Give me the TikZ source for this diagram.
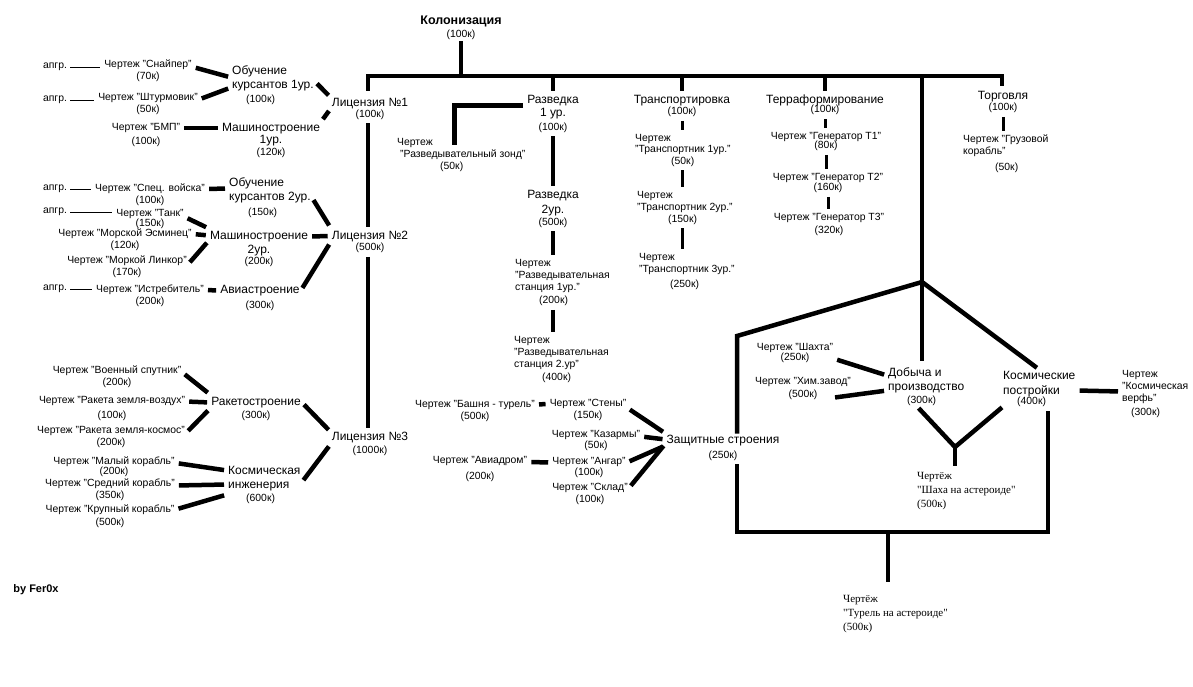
\documentclass[tikz,border=0pt]{standalone}
\usepackage{fontspec}
\setmainfont{Liberation Sans}
\newfontfamily\serifface{Liberation Serif}
\newcommand\sm{\fontsize{10.4}{12}\selectfont}
\newcommand\bg{\fontsize{12}{14}\selectfont}

\begin{document}
\begin{tikzpicture}[x=1pt,y=-1pt,
    bp/.style={font=\sm,align=center,inner sep=1pt},
    bpl/.style={font=\sm,align=left,inner sep=1pt,anchor=west},
    br/.style={font=\bg,align=center,inner sep=1pt},
    brl/.style={font=\bg,align=left,inner sep=1pt,anchor=west},
    ser/.style={font=\serifface\fontsize{11}{14}\selectfont,align=left,inner sep=1pt,anchor=west},
    wire/.style={line width=4.5pt},
    link/.style={wire,shorten <=3pt,shorten >=3pt},
    midwire/.style={line width=3pt,shorten <=3pt,shorten >=3pt},
    thin/.style={line width=0.9pt,shorten <=2pt,shorten >=3pt}
  ]
  \useasboundingbox (0,0) rectangle (1193,687);

  % top
  \node[font=\bfseries\fontsize{12.5}{13}\selectfont,align=center,inner sep=1pt] (kol) at (461,28) {Колонизация\\{\sm\mdseries(100к)}};
  \node[br] (lic1) at (370,108.5) {Лицензия №1\\[-3pt]{\sm(100к)}};
  \node[br] (lic2) at (370,242) {Лицензия №2\\[-3pt]{\sm(500к)}};
  \node[br] (lic3) at (370,444) {Лицензия №3\\[-1pt]{\sm(1000к)}};

  % licence 1
  \node[bp] (up1) at (55,67) {апгр.};
  \node[bp] (up2) at (55,100) {апгр.};
  \node[bp] (snp) at (148,71) {Чертеж "Снайпер"\\(70к)};
  \node[bp] (shtm) at (148,104.5) {Чертеж "Штурмовик"\\(50к)};
  \node[bp] (bmp) at (146,135) {Чертеж "БМП"\\[2pt](100к)};
  \node[brl] (ob1) at (231,85.5) {Обучение\\курсантов 1ур.\\\hspace*{14pt}{\sm(100к)}};
  \node[br] (mash1) at (271,140) {Машиностроение\\[-2pt]1ур.\\[-2pt]{\sm(120к)}};

  % licence 2
  \node[bp] (up3) at (55,189) {апгр.};
  \node[bp] (up4) at (55,212) {апгр.};
  \node[bp] (up5) at (55,289) {апгр.};
  \node[bp] (spec) at (150,195) {Чертеж "Спец. войска"\\(100к)};
  \node[bp] (tank) at (150,219) {Чертеж "Танк"\\[-2pt](150к)};
  \node[bp] (esm) at (125,240) {Чертеж "Морской Эсминец"\\(120к)};
  \node[bp] (lnk) at (127,266.5) {Чертеж "Моркой Линкор"\\(170к)};
  \node[bp] (istr) at (150,296) {Чертеж "Истребитель"\\(200к)};
  \node[brl] (ob2) at (228,197.5) {Обучение\\курсантов 2ур.\\[1pt]\hspace*{19pt}{\sm(150к)}};
  \node[br] (mash2) at (259,248.5) {Машиностроение\\2ур.\\[-3pt]{\sm(200к)}};
  \node[br] (avia) at (260,297.5) {Авиастроение\\[1pt]{\sm(300к)}};

  % licence 3
  \node[bp] (sput) at (117,376.5) {Чертеж "Военный спутник"\\(200к)};
  \node[bp] (rvz) at (112,408.5) {Чертеж "Ракета земля-воздух"\\[3pt](100к)};
  \node[bp] (rkos) at (111,437) {Чертеж "Ракета земля-космос"\\(200к)};
  \node[br] (raket) at (256,408.5) {Ракетостроение\\[-1pt]{\sm(300к)}};
  \node[bp] (maly) at (114,467) {Чертеж "Малый корабль"\\[-2pt](200к)};
  \node[bp] (sred) at (110,489.5) {Чертеж "Средний корабль"\\(350к)};
  \node[bp] (krup) at (110,516.5) {Чертеж "Крупный корабль"\\[1pt](500к)};
  \node[brl] (kosm) at (227,484.5) {Космическая\\инженерия\\[-1pt]\hspace*{18pt}{\sm(600к)}};

  % scouting
  \node[br] (razv1) at (553,113.5) {Разведка\\[-1pt]1 ур.\\{\sm(100к)}};
  \node[bpl] (zond) at (396,155) {Чертеж\\\hspace*{3pt}"Разведывательный зонд"\\\hspace*{43pt}(50к)};
  \node[br] (razv2) at (553,208.5) {Разведка\\[1pt]2ур.\\[-2pt]{\sm(500к)}};
  \node[bpl] (st1) at (514,282.5) {Чертеж\\"Разведывательная\\станция 1ур."\\[1pt]\hspace*{24pt}(200к)};
  \node[bpl] (st2) at (513,359.5) {Чертеж\\"Разведывательная\\станция 2.ур"\\[1pt]\hspace*{28pt}(400к)};

  % transport
  \node[br] (trans) at (682,106) {Транспортировка\\[-3pt]{\sm(100к)}};
  \node[bpl] (tr1) at (634,150) {Чертеж\\"Транспортник 1ур."\\[-1pt]\hspace*{36pt}(50к)};
  \node[bpl] (tr2) at (636,207.5) {Чертеж\\"Транспортник 2ур."\\\hspace*{31pt}(150к)};
  \node[bpl] (tr3) at (638,271) {Чертеж\\"Транспортник 3ур."\\[3pt]\hspace*{31pt}(250к)};

  % terraforming
  \node[br] (terra) at (825,105) {Терраформирование\\[-5pt]{\sm(100к)}};
  \node[bp] (gen1) at (826,141.5) {Чертеж "Генератор Т1"\\[-3pt](80к)};
  \node[bp] (gen2) at (828,183) {Чертеж "Генератор Т2"\\[-2pt](160к)};
  \node[bp] (gen3) at (829,224.5) {Чертеж "Генератор Т3"\\[1pt](320к)};

  % trade
  \node[br] (torg) at (1003,102) {Торговля\\[-3pt]{\sm(100к)}};
  \node[bpl] (gruz) at (962,154) {Чертеж "Грузовой\\корабль"\\[4pt]\hspace*{32pt}(50к)};

  % defence
  \node[br] (zash) at (723,447.5) {Защитные строения\\[1pt]{\sm(250к)}};
  \node[bp] (steny) at (588,410) {Чертеж "Стены"\\(150к)};
  \node[bp] (bash) at (475,410.5) {Чертеж "Башня - турель"\\(500к)};
  \node[bp] (kaz) at (596,440.5) {Чертеж "Казармы"\\[-1pt](50к)};
  \node[bp] (avd) at (480,469) {Чертеж "Авиадром"\\[4pt](200к)};
  \node[bp] (angar) at (589,467.5) {Чертеж "Ангар"\\[-1pt](100к)};
  \node[bp] (sklad) at (590,494) {Чертеж "Склад"\\(100к)};

  % mining and space
  \node[brl] (dob) at (887,386.5) {Добыча и\\производство\\[-1pt]\hspace*{19pt}{\sm(300к)}};
  \node[brl] (kp) at (1002,388.5) {Космические\\[1pt]постройки\\[-4pt]\hspace*{14pt}{\sm(400к)}};
  \node[bp] (shahta) at (795,353) {Чертеж "Шахта"\\[-2pt](250к)};
  \node[bp] (him) at (803,388.5) {Чертеж "Хим.завод"\\[1pt](500к)};
  \node[bpl] (verf) at (1121,393.5) {Чертеж\\"Космическая\\верфь"\\[2pt]\hspace*{9pt}(300к)};
  \node[ser] (shaha) at (916,491) {Чертёж\\"Шаха на астероиде"\\(500к)};
  \node[ser] (turel) at (842,614.5) {Чертёж\\"Турель на астероиде"\\(500к)};

  \node[font=\bfseries\fontsize{11}{13}\selectfont,inner sep=1pt] (auth) at (36,590) {by Fer0x};

  \coordinate (busL) at (368,76);
  \coordinate (busR) at (1002,76);
  \coordinate (jn) at (922,282);
  \coordinate (fr1) at (737,336);
  \coordinate (frL) at (737,532);
  \coordinate (frR) at (1048,532);
  \coordinate (frM) at (888,532);
  \coordinate (vj) at (955,447);

  % main bus
  \draw[wire,shorten <=6pt,shorten >=4pt] (busL |- lic1.north) -- (busL) -- (busR) -- (busR |- torg.north);
  \draw[wire] (kol.south) -- (kol.south |- busL);
  \draw[wire,shorten <=3pt] (razv1.north) -- (razv1.north |- busL);
  \draw[wire,shorten <=3pt] (trans.north) -- (trans.north |- busL);
  \draw[wire,shorten <=3pt] (terra.north) -- (terra.north |- busL);
  \draw[wire] (jn |- busL) -- (jn);

  % licences
  \draw[link] (busL |- lic1.south) -- (busL |- lic2.north);
  \draw[link] (busL |- lic2.south) -- (busL |- lic3.north);
  \draw[thin] (up1.east) -- (up1.east -| snp.west);
  \draw[thin] (up2.east) -- (up2.east -| shtm.west);
  \draw[link] ([yshift=4pt]snp.east) -- ([yshift=8pt]ob1.west);
  \draw[link] ([yshift=5pt]shtm.east) -- ([yshift=-2pt]ob1.west);
  \draw[link] ([yshift=7pt]bmp.east) -- ([yshift=12pt]mash1.west);
  \draw[link] ([yshift=4pt]ob1.east) -- ([yshift=11pt]lic1.west);
  \draw[link] (mash1.north east) -- (lic1.west);

  \draw[thin] (up3.east) -- (up3.east -| spec.west);
  \draw[thin] (up4.east) -- (up4.east -| tank.west);
  \draw[thin] (up5.east) -- (up5.east -| istr.west);
  \draw[link] ([yshift=6pt]spec.east) -- ([yshift=9pt]ob2.west);
  \draw[link] ([yshift=2pt]tank.east) -- ([yshift=20pt]mash2.west);
  \draw[link] ([yshift=6pt]esm.east) -- ([yshift=13pt]mash2.west);
  \draw[link] ([yshift=2pt]lnk.east) -- ([yshift=8pt]mash2.west);
  \draw[link] ([yshift=6pt]istr.east) -- ([yshift=7pt]avia.west);
  \draw[link] (ob2.east) -- ([yshift=14pt]lic2.west);
  \draw[link] ([yshift=12pt]mash2.east) -- ([yshift=6pt]lic2.west);
  \draw[link] ([yshift=7pt]avia.east) -- (lic2.west);

  \draw[link] ([yshift=4pt]sput.east) -- ([yshift=14pt]raket.west);
  \draw[link] ([yshift=7pt]rvz.east) -- ([yshift=6pt]raket.west);
  \draw[link] ([yshift=4pt]rkos.east) -- (raket.west);
  \draw[link] ([yshift=6pt]raket.east) -- ([yshift=12pt]lic3.west);
  \draw[link] ([yshift=4pt]maly.east) -- ([yshift=14pt]kosm.west);
  \draw[link] ([yshift=4pt]sred.east) -- (kosm.west);
  \draw[link] ([yshift=7pt]krup.east) -- ([yshift=-10pt]kosm.west);
  \draw[link] ([yshift=2pt]kosm.east) -- (lic3.west);

  % scouting, transport, terraforming, trade
  \draw[wire,shorten <=3pt] ([yshift=8pt]razv1.west) -| ([xshift=-7pt,yshift=-8pt]zond.north);
  \draw[link] (razv1.south) -- (razv2.north);
  \draw[link] (razv2.south) -- (razv2.south |- st1.north);
  \draw[link] (razv2.south |- st1.south) -- (razv2.south |- st2.north);
  \draw[midwire] (trans.south) -- (trans.south |- tr1.north);
  \draw[midwire] (trans.south |- tr1.south) -- (trans.south |- tr2.north);
  \draw[midwire] (trans.south |- tr2.south) -- (trans.south |- tr3.north);
  \draw[midwire] (terra.south) -- (terra.south |- gen1.north);
  \draw[midwire] (gen1.south) -- (gen1.south |- gen2.north);
  \draw[midwire] (gen2.south) -- (gen2.south |- gen3.north);
  \draw[midwire] (torg.south) -- (torg.south |- gruz.north);

  % defence frame
  \draw[wire] (jn) -- (fr1) -- (fr1 |- zash.north);
  \draw[wire,shorten <=3pt,shorten >=4pt] (fr1 |- zash.south) -- (frL) -- (frR) -- (frR |- kp.south);
  \draw[wire,shorten >=13pt] (frM) -- (frM |- turel.north);
  \draw[link] ([yshift=6pt]bash.east) -- ([yshift=6pt]steny.west);
  \draw[link] ([yshift=2pt]steny.east) -- ([yshift=14pt]zash.west);
  \draw[link] ([yshift=4pt]kaz.east) -- ([yshift=8pt]zash.west);
  \draw[link] ([yshift=7pt]avd.east) -- ([yshift=5pt]angar.west);
  \draw[link] ([yshift=5pt]angar.east) -- ([yshift=2pt]zash.west);
  \draw[link] ([yshift=6pt]sklad.east) -- ([yshift=4pt]zash.west);

  % mining and space
  \draw[wire,shorten >=5pt] (jn) -- (jn |- dob.north);
  \draw[wire,shorten >=3pt] (jn) -- (kp.north);
  \draw[link] ([yshift=5pt]shahta.south east) -- ([yshift=11pt]dob.west);
  \draw[link] ([xshift=-20pt,yshift=3pt]him.south east) -- ([yshift=-4pt]dob.west);
  \draw[link] ([yshift=-2pt]kp.east) -- ([yshift=2pt]verf.west);
  \draw[wire,shorten <=2pt] ([xshift=-9pt]dob.south) -- (vj) -- (kp.south west);
  \draw[wire,shorten >=5pt] (vj) -- (vj |- shaha.north);
\end{tikzpicture}
\end{document}
